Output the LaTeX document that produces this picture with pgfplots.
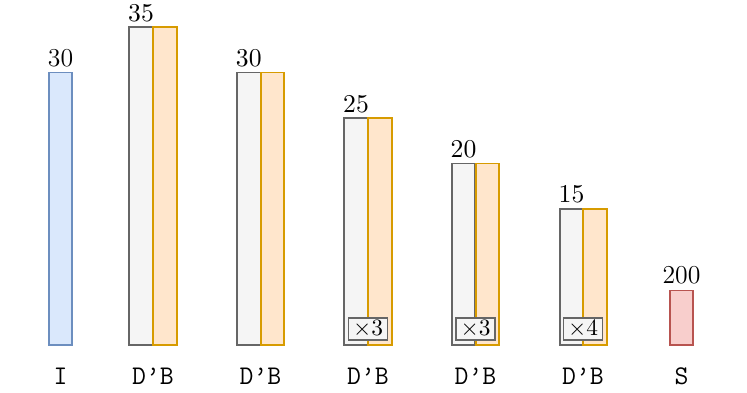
\documentclass[border=0pt]{standalone}
\usepackage{pgfplots}
\pgfplotsset{compat=1.18}
\definecolor{bfill}{HTML}{DAE8FC}
\definecolor{bdraw}{HTML}{6C8EBF}
\definecolor{gfill}{HTML}{F5F5F5}
\definecolor{gdraw}{HTML}{666666}
\definecolor{ofill}{HTML}{FFE6CC}
\definecolor{odraw}{HTML}{D79B00}
\definecolor{rfill}{HTML}{F8CECC}
\definecolor{rdraw}{HTML}{B85450}
\begin{document}
\begin{tikzpicture}
\begin{axis}[
  scale only axis, width=112.05mm, height=58.8mm,
  xmin=0, xmax=747, ymin=-5.18, ymax=38.0,
  axis line style={draw=none}, major tick length=0pt,
  ytick=\empty,
  xtick={60.5,153,260.5,368,475.5,583,681.5},
  xticklabels={I,D’B,D’B,D’B,D’B,D’B,S},
  xticklabel style={font=\fontsize{11.5}{13}\ttfamily, anchor=base, yshift=1.2mm},
  ybar, bar width=23.5, bar shift=0pt,
  clip=false,
  every axis plot/.append style={line width=0.7pt},
  nodes near coords style={font=\fontsize{11}{13}\selectfont, inner ysep=2.2pt},
]
\addplot[draw=bdraw, fill=bfill, nodes near coords, point meta=explicit symbolic] coordinates {(60.5,30) [30]};
\addplot[draw=gdraw, fill=gfill, nodes near coords, point meta=y] coordinates {(141,35) (248.75,30) (356,25) (463.5,20) (571.5,15)};
\addplot[draw=odraw, fill=ofill] coordinates {(165,35) (272.5,30) (380,25) (487.5,20) (595,15)};
\addplot[draw=rdraw, fill=rfill, nodes near coords, point meta=explicit symbolic] coordinates {(681.5,6) [200]};
\node[draw=gdraw, fill=gfill, line width=0.7pt, inner xsep=2pt, inner ysep=1pt] at (axis cs:368,1.76) {$\times3$};
\node[draw=gdraw, fill=gfill, line width=0.7pt, inner xsep=2pt, inner ysep=1pt] at (axis cs:475.5,1.76) {$\times3$};
\node[draw=gdraw, fill=gfill, line width=0.7pt, inner xsep=2pt, inner ysep=1pt] at (axis cs:583,1.76) {$\times4$};
\end{axis}
\pgfresetboundingbox
\useasboundingbox (current axis.south west) rectangle (current axis.north east);
\end{tikzpicture}
\end{document}
